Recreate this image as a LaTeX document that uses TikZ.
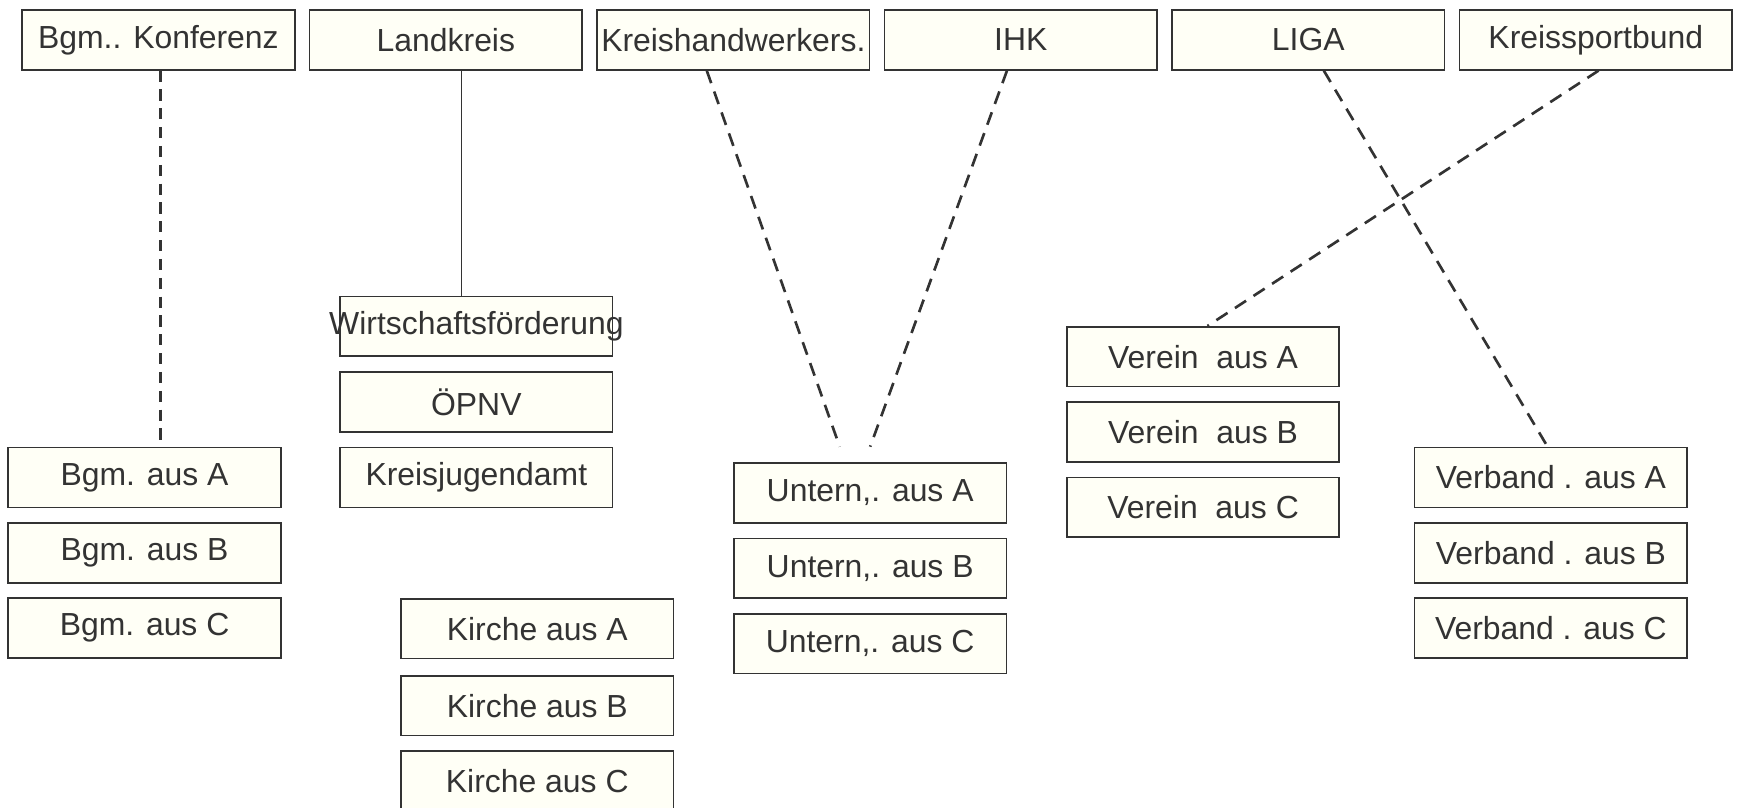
\documentclass[tikz,border=0pt]{standalone}
\usepackage{fontspec}
\setmainfont{Liberation Sans}
\usetikzlibrary{calc}
\definecolor{boxfill}{HTML}{FFFFF6}
\definecolor{boxline}{HTML}{333333}

\begin{document}
\begin{tikzpicture}[x=0.5pt, y=-0.5pt,
	orgbox/.style={draw=boxline, fill=boxfill, line width=0.75pt, inner sep=0pt,
		minimum width=123pt, minimum height=27pt, text=boxline,
		font=\fontsize{14.4}{17}\selectfont},
	dashlink/.style={draw=boxline, line width=1.2pt, dash pattern=on 6pt off 4pt},
	solidlink/.style={draw=boxline, line width=0.75pt}]
			%%%%% START %%%%%
			\useasboundingbox (0, 0) rectangle (1568, 728.5);
			
			% top row
			\node[orgbox] (konf) at (143, 36) {Bgm.. Konferenz};
			\node[orgbox] (lk) at (402.5, 36) {Landkreis};
			\node[orgbox] (khw) at (662, 36) {Kreishandwerkers.};
			\node[orgbox] (ihk) at (921.5, 36) {IHK};
			\node[orgbox] (liga) at (1181, 36) {LIGA};
			\node[orgbox] (ksb) at (1440.5, 36) {Kreissportbund};
			
			% Buergermeister
			\node[orgbox] (bgmA) at (130.5, 431) {Bgm. aus A};
			\node[orgbox] (bgmB) at (130.5, 499) {Bgm. aus B};
			\node[orgbox] (bgmC) at (130.5, 567) {Bgm. aus C};
			
			% Landkreis
			\node[orgbox] (wf) at (430, 294.5) {\makebox[0pt]{Wirtschaftsförderung}};
			\node[orgbox] (oepnv) at (430, 363) {ÖPNV};
			\node[orgbox] (kja) at (430, 431) {Kreisjugendamt};
			
			% Kirche
			\node[orgbox] (kiA) at (485, 567.5) {Kirche aus A};
			\node[orgbox] (kiB) at (485, 637) {Kirche aus B};
			\node[orgbox] (kiC) at (485, 705) {Kirche aus C};
			
			% Unternehmen
			\node[orgbox] (untA) at (785.5, 445) {Untern,. aus A};
			\node[orgbox] (untB) at (785.5, 513) {Untern,. aus B};
			\node[orgbox] (untC) at (785.5, 581) {Untern,. aus C};
			
			% Vereine
			\node[orgbox] (vA) at (1086, 322) {Verein\ \ aus A};
			\node[orgbox] (vB) at (1086, 390) {Verein\ \ aus B};
			\node[orgbox] (vC) at (1086, 458) {Verein\ \ aus C};
			
			% Verbaende
			\node[orgbox] (vbA) at (1400, 431) {Verband . aus A};
			\node[orgbox] (vbB) at (1400, 499) {Verband . aus B};
			\node[orgbox] (vbC) at (1400, 567) {Verband . aus C};
			
			% links
			\draw[dashlink, dash pattern=on 5pt off 3.5pt] ([xshift=1pt]konf.south) -- ([xshift=1pt]konf.south |- bgmA.north);
			\draw[solidlink] ([xshift=7pt]lk.south) -- ([xshift=7pt]lk.south |- wf.north);
			
			\coordinate (untL) at ([xshift=-13.75pt, yshift=7pt]untA.north);
			\coordinate (untR) at ([yshift=7pt]untA.north);
			\draw[dashlink] ([xshift=-12pt]khw.south) -- (untL);
			\draw[dashlink] ([xshift=-6.25pt]ihk.south) -- (untR);
			
			\draw[dashlink] ([xshift=7pt]liga.south) -- ([xshift=-1.5pt]vbA.north);
			\draw[dashlink] ([xshift=1.25pt]ksb.south) -- ([xshift=2pt]vA.north);
			
			%%%%% END %%%%%
\end{tikzpicture}
\end{document}
